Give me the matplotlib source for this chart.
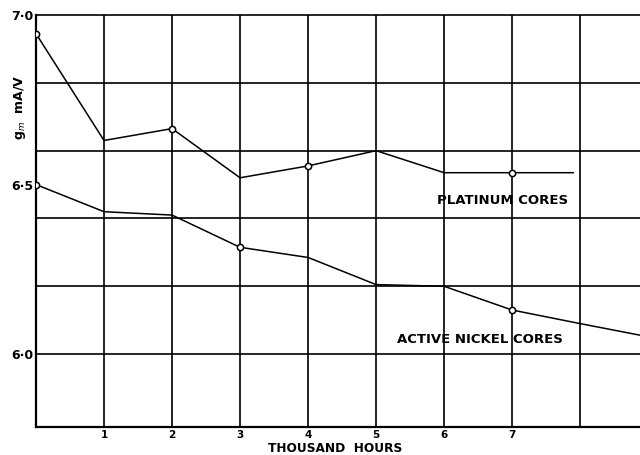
import numpy as np
import matplotlib
matplotlib.use('Agg')
import matplotlib.pyplot as plt

# thousand hours vs mutual conductance (mA/V)
plat_x = [0, 1, 2, 3, 4, 5, 6, 7, 7.9]
plat_y = [6.945, 6.63, 6.665, 6.52, 6.555, 6.60, 6.535, 6.535, 6.535]
plat_marks = [0, 2, 4, 7]

nick_x = [0, 1, 2, 3, 4, 5, 6, 7, 8, 8.9]
nick_y = [6.50, 6.42, 6.41, 6.315, 6.285, 6.205, 6.20, 6.13, 6.09, 6.055]
nick_marks = [0, 3, 7]

xticks = [1, 2, 3, 4, 5, 6, 7]
yticks = [6.0, 6.5, 7.0]
ytick_labels = ['6·0', '6·5', '7·0']

fig = plt.figure(figsize=(6.4, 4.55), dpi=100)
ax = fig.add_axes([0.05625, 0.0615, 0.94375, 0.9055])

# grid
for gx in range(1, 9):
    ax.axvline(gx, color='black', lw=1.2, zorder=1)
for gy in [6.0, 6.2, 6.4, 6.6, 6.8]:
    ax.axhline(gy, color='black', lw=1.2, zorder=1)

ax.plot(plat_x, plat_y, color='black', lw=1.1, marker='o', markevery=plat_marks,
        markersize=4.5, markerfacecolor='white', markeredgecolor='black', mew=1.1, zorder=3)
ax.plot(nick_x, nick_y, color='black', lw=1.1, marker='o', markevery=nick_marks,
        markersize=4.5, markerfacecolor='white', markeredgecolor='black', mew=1.1, zorder=3)

ax.text(5.9, 6.454, 'PLATINUM CORES', fontsize=9.5, fontweight='bold', ha='left', va='center')
ax.text(5.31, 6.044, 'ACTIVE NICKEL CORES', fontsize=9.5, fontweight='bold', ha='left', va='center')

ax.set_xlim(0, 8.88)
ax.set_ylim(5.785, 7.0)
ax.set_xticks(xticks)
ax.set_xticklabels([str(t) for t in xticks], fontsize=7.5, fontweight='bold')
ax.set_yticks(yticks)
ax.set_yticklabels(ytick_labels, fontsize=9, fontweight='bold')
ax.tick_params(length=0, pad=2)

for s in ['left', 'bottom']:
    ax.spines[s].set_linewidth(1.6)
ax.spines['top'].set_linewidth(1.2)
ax.spines['right'].set_visible(False)

fig.text(20 / 640, 1 - 107 / 455, 'g$_m$  mA/V', rotation=90, fontsize=9,
         fontweight='bold', ha='center', va='center')
fig.text(335 / 640, 1 - 449 / 455, 'THOUSAND  HOURS', fontsize=8.7,
         fontweight='bold', ha='center', va='center')

fig.savefig('out.png', dpi=100)
